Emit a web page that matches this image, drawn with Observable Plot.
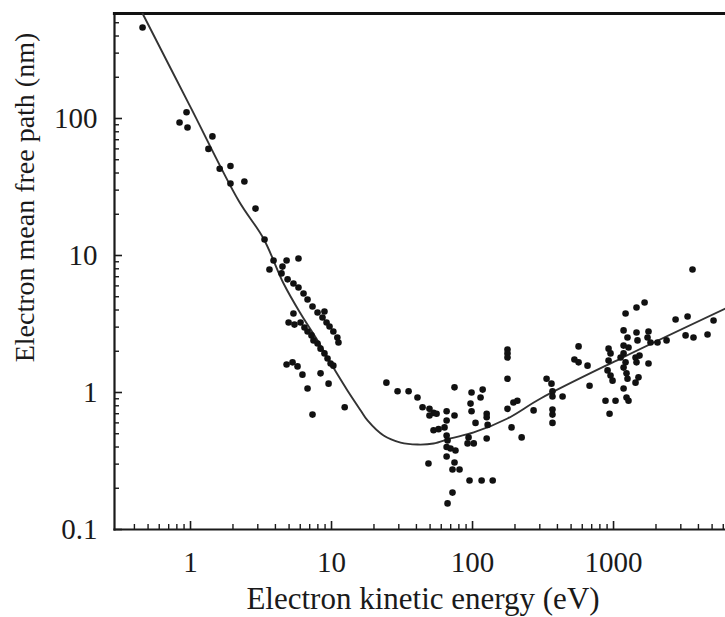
<!DOCTYPE html>
<html><head><meta charset="utf-8">
<script src="https://cdn.jsdelivr.net/npm/d3@7"></script>
<script src="https://cdn.jsdelivr.net/npm/@observablehq/plot@0.6"></script>
<style>html,body{margin:0;padding:0;background:#fff}svg{display:block}</style>
</head><body><div id="chart"></div>
<script>
// Measured points: electron kinetic energy (eV) and mean free path (nm)
const lowEnergy = [0.457,0.937,0.836,0.952,1.43,1.34,1.61,1.92,1.92,2.41,2.89,3.35,3.88,3.63,4.80,5.83,4.49,4.42,4.88,5.37,5.83,6.33,6.76,7.33,7.96,8.91,8.63,9.22,9.68,10.3,11.0,11.2,5.37,4.96,5.46,6.03,6.43,6.76,7.21,7.45,7.96,8.36,8.91,9.37,9.85,10.3,4.80,5.29,5.74,6.22,8.36,6.76,9.53,7.33,12.4];
const lowMfp    = [462,111,93.5,86,74,60,43,45,33.5,34.7,22,13.1,9.2,7.9,9.2,9.5,8.3,7.4,6.7,6.25,5.84,5.28,4.77,4.24,3.84,3.9,3.53,3.24,3.03,2.79,2.52,2.32,3.77,3.24,3.13,3.24,2.98,2.79,2.61,2.4,2.28,2.09,1.93,1.77,1.63,1.57,1.60,1.66,1.55,1.35,1.38,1.07,1.16,0.69,0.78];
const midEnergy = [24.5,29.4,35.2,40.7,44.2,49.5,52.9,49.5,55.6,65.5,74.5,74.5,98.4,118,114,96.8,98.4,65.5,52.9,57.4,63.3,65.5,66.5,65.5,69.8,75.7,65.5,74.5,72.1,80.9,48.7,95.2,116,139,72.1,66.5,93.7,92.2,102,105,126,126,128,126,177,177,177,177,177,195,208,189,223,271];
const midMfp    = [1.18,1.02,1.02,0.92,0.78,0.76,0.71,0.68,0.70,0.73,0.68,1.09,1.0,1.05,0.92,0.83,0.73,0.625,0.53,0.54,0.556,0.485,0.447,0.40,0.39,0.377,0.341,0.308,0.274,0.274,0.303,0.228,0.228,0.228,0.186,0.155,0.47,0.425,0.425,0.60,0.70,0.66,0.58,0.462,2.06,1.93,1.80,1.26,0.76,0.845,0.87,0.556,0.47,0.74];
const highEnergy = [335,363,369,369,435,369,369,369,565,528,565,654,676,922,952,922,907,952,984,877,937,1033,1178,1217,1455,1660,1256,1178,1277,1455,1479,1770,1742,1829,2050,2377,1122,1178,1217,1178,1236,1256,1432,1455,1528,1770,1503,1432,1178,1236,1277,2754,3350,3243,3690,4640,5120,3631];
const highMfp    = [1.26,1.16,1.02,0.935,0.935,0.75,0.69,0.60,2.17,1.74,1.66,1.57,1.12,2.09,1.93,1.71,1.45,1.33,1.22,0.87,0.70,0.87,2.84,3.77,4.17,4.54,2.52,2.20,2.13,2.74,2.40,2.79,2.52,2.32,2.32,2.40,1.80,1.93,1.66,1.52,1.38,1.26,1.80,1.66,1.86,1.63,1.29,1.18,1.07,0.92,0.87,3.41,3.59,2.61,2.52,2.65,3.35,7.9];

// Universal curve
const curveEnergy = [0.457,1.0,2.19,3.29,4.57,6.03,7.96,10.3,13.0,16.1,18.0,23.4,30.9,40.7,52.9,69.8,102,177,304,1122,6220];
const curveMfp    = [584,121,25.2,13.3,6.25,3.77,2.40,1.52,1.03,0.739,0.625,0.485,0.431,0.417,0.424,0.462,0.511,0.646,0.904,1.77,4.10];

const xMajorTicks = [1, 10, 100, 1000];
const xMinorTicks = [0.4,0.5,0.6,0.7,0.8,0.9,2,3,4,5,6,7,8,9,20,30,40,50,60,70,80,90,200,300,400,500,600,700,800,900,2000,3000,4000,5000,6000];
const yMajorTicks = [0.1, 1, 10, 100];
const yMinorTicks = [0.2,0.3,0.4,0.5,0.6,0.7,0.8,0.9,2,3,4,5,6,7,8,9,20,30,40,50,60,70,80,90,200,300,400,500];
const xDomain = [0.289, 6223];
const yDomain = [0.1, 584];
const xTitle = "Electron kinetic energy (eV)";
const yTitle = "Electron mean free path (nm)";

const points = [
  ...lowEnergy.map((e, i) => ({e, l: lowMfp[i]})),
  ...midEnergy.map((e, i) => ({e, l: midMfp[i]})),
  ...highEnergy.map((e, i) => ({e, l: highMfp[i]}))
];
const curve = curveEnergy.map((e, i) => ({e, l: curveMfp[i]}));

const W = 725, H = 617, mT = 13, mB = 88, mL = 114, mR = 0;
const innerW = W - mL - mR, innerH = H - mT - mB;
const ink = "#1a1a1a";

const chart = Plot.plot({
  width: W, height: H,
  marginTop: mT, marginBottom: mB, marginLeft: mL, marginRight: mR,
  style: {fontFamily: "'Liberation Serif', 'DejaVu Serif', serif", fontSize: "28px", background: "#fff", color: ink},
  x: {type: "log", domain: xDomain},
  y: {type: "log", domain: yDomain},
  marks: [
    Plot.axisX(xMajorTicks, {tickSize: 0, tickPadding: 22, tickFormat: d => String(d), label: null, fontSize: 29}),
    Plot.axisY(yMajorTicks, {tickSize: 0, tickPadding: 17, tickFormat: d => String(d), label: null, fontSize: 29}),
    Plot.tickX(xMajorTicks, {x: d => d, insetTop: innerH - 8, stroke: ink, strokeWidth: 1.6}),
    Plot.tickX(xMinorTicks, {x: d => d, insetTop: innerH - 5, stroke: ink, strokeWidth: 1.4}),
    Plot.tickY(yMajorTicks, {y: d => d, insetRight: innerW - 8, stroke: ink, strokeWidth: 1.6}),
    Plot.tickY(yMinorTicks, {y: d => d, insetRight: innerW - 5, stroke: ink, strokeWidth: 1.4}),
    Plot.frame({anchor: "left", stroke: ink, strokeWidth: 2.2}),
    Plot.frame({anchor: "bottom", stroke: ink, strokeWidth: 2.2}),
    Plot.frame({anchor: "top", stroke: "#111", strokeWidth: 3.2}),
    Plot.line(curve, {x: "e", y: "l", curve: "catmull-rom", stroke: "#333", strokeWidth: 1.9, clip: true}),
    Plot.dot(points, {x: "e", y: "l", r: 3.3, fill: "#111", stroke: null}),
    Plot.text([xTitle], {text: d => d, frameAnchor: "bottom", textAnchor: "middle", lineAnchor: "top", dx: 3, dy: 57, fontSize: 31, fill: ink}),
    Plot.text([yTitle], {text: d => d, frameAnchor: "left", textAnchor: "middle", rotate: -90, dx: -89, dy: -74, fontSize: 28, fill: ink})
  ]
});
document.getElementById("chart").appendChild(chart);
</script>
</body></html>
